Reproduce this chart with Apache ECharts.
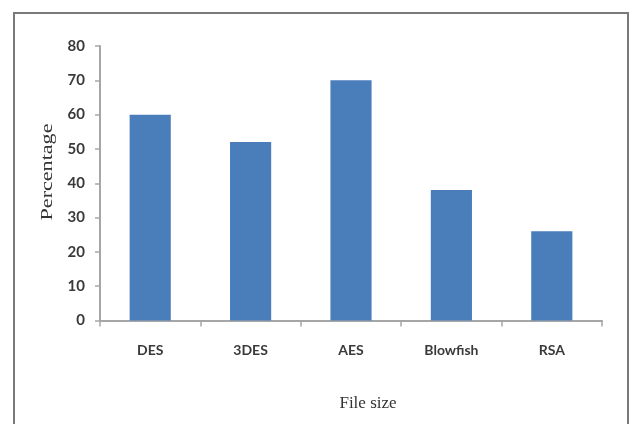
<!DOCTYPE html>
<html>
<head>
<meta charset="utf-8">
<style>
  html, body { margin: 0; padding: 0; background: #ffffff; }
  #chart { width: 632px; height: 424px; }
</style>
<script src="https://cdn.jsdelivr.net/npm/echarts@6/dist/echarts.min.js"></script>
</head>
<body>
<div id="chart"></div>
<script>
// Encryption algorithms compared
const categories = ['DES', '3DES', 'AES', 'Blowfish', 'RSA'];
// Percentage per algorithm
const percentages = [60, 52, 70, 38, 26];
// Y-axis range and step
const yMin = 0;
const yMax = 80;
const yStep = 10;

const chart = echarts.init(document.getElementById('chart'), null, { renderer: 'canvas' });

const tickFont = 'Lato, "Open Sans", sans-serif';
const titleFont = '"Liberation Serif", "DejaVu Serif", serif';

chart.setOption({
  backgroundColor: '#ffffff',
  animation: false,
  graphic: [{
    // outer frame
    type: 'rect',
    shape: { x: 14, y: 13, width: 614, height: 420 },
    style: { fill: 'none', stroke: '#7a7a7a', lineWidth: 2 },
    z: 100
  }, {
    // y-axis title, slightly widened serif text
    type: 'text',
    x: 48,
    y: 172,
    rotation: Math.PI / 2,
    scaleX: 1.3,
    style: {
      text: 'Percentage',
      font: '17px ' + titleFont,
      fill: '#333333',
      align: 'center',
      verticalAlign: 'middle'
    }
  }],
  grid: { left: 100, right: 30, top: 46, bottom: 103.5, containLabel: false },
  xAxis: {
    type: 'category',
    data: categories,
    name: 'File size',
    nameLocation: 'middle',
    nameGap: 75,
    nameTextStyle: { fontFamily: titleFont, fontSize: 17, color: '#333333', padding: [0, 0, 0, 34] },
    axisLine: { lineStyle: { color: '#a6a6a6', width: 2 } },
    axisTick: { show: true, alignWithLabel: false, length: 6, lineStyle: { color: '#a6a6a6', width: 1.5 } },
    axisLabel: { fontFamily: tickFont, fontSize: 14, fontWeight: 'bold', color: '#3a3a3a', margin: 23 }
  },
  yAxis: {
    type: 'value',
    min: yMin,
    max: yMax,
    interval: yStep,
    axisLine: { show: true, lineStyle: { color: '#a6a6a6', width: 2 } },
    axisTick: { show: true, length: 5, lineStyle: { color: '#a6a6a6', width: 1.5 } },
    splitLine: { show: false },
    axisLabel: { fontFamily: tickFont, fontSize: 15, fontWeight: 'bold', color: '#3a3a3a', margin: 15 }
  },
  series: [{
    type: 'bar',
    data: percentages,
    barWidth: '41%',
    itemStyle: { color: '#4a7ebb' }
  }]
});
</script>
</body>
</html>
